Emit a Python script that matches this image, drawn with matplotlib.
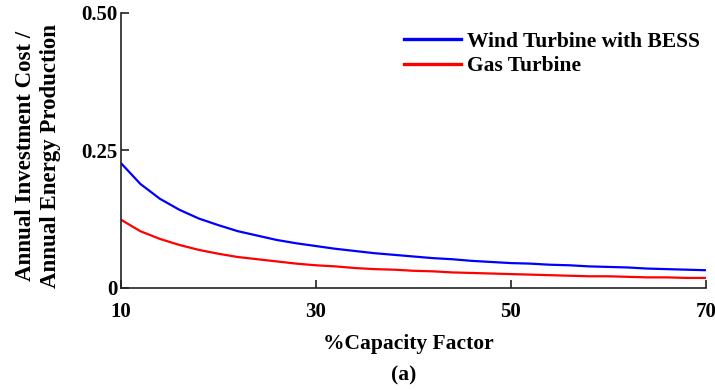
import matplotlib
matplotlib.use("Agg")
import matplotlib.pyplot as plt

# capacity factor (%) and cost ratio
cap_factor = [10, 12, 14, 16, 18, 20, 22, 24, 26, 28, 30, 32, 34, 36, 38, 40,
              42, 44, 46, 48, 50, 52, 54, 56, 58, 60, 62, 64, 66, 68, 70]
wind_bess = [0.227, 0.189, 0.162, 0.142, 0.126, 0.114, 0.103, 0.095, 0.087, 0.081,
             0.076, 0.071, 0.067, 0.063, 0.060, 0.057, 0.054, 0.052, 0.049, 0.047,
             0.045, 0.044, 0.042, 0.041, 0.039, 0.038, 0.037, 0.035, 0.034, 0.033, 0.032]
gas = [0.124, 0.103, 0.089, 0.078, 0.069, 0.062, 0.056, 0.052, 0.048, 0.044,
       0.041, 0.039, 0.036, 0.034, 0.033, 0.031, 0.030, 0.028, 0.027, 0.026,
       0.025, 0.024, 0.023, 0.022, 0.021, 0.021, 0.020, 0.019, 0.019, 0.018, 0.018]

x_ticks = [10, 30, 50, 70]
y_ticks = [0, 0.25, 0.5]
y_tick_labels = ["0", "0.25", "0.50"]

plt.rcParams['font.family'] = ['Liberation Serif', 'DejaVu Serif']
plt.rcParams['font.weight'] = 'bold'

fig = plt.figure(figsize=(7.15, 3.9), dpi=100)
ax = fig.add_axes([0.169, 0.262, 0.818, 0.705])

ax.plot(cap_factor, wind_bess, color='#0000ff', lw=1.6, label='Wind Turbine with BESS')
ax.plot(cap_factor, gas, color='#ff0000', lw=1.6, label='Gas Turbine')

ax.set_xlim(10, 70)
ax.set_ylim(0, 0.5)
ax.set_xticks(x_ticks)
ax.set_xticklabels([str(t) for t in x_ticks])
ax.set_yticks(y_ticks)
ax.set_yticklabels(y_tick_labels)
ax.tick_params(direction='in', length=6, width=1.2, colors='#222222',
               labelsize=15, labelcolor='black')
ax.tick_params(axis='y', pad=2.5)
ax.tick_params(axis='x', pad=10)
for lbl in ax.get_xticklabels() + ax.get_yticklabels():
    lbl.set_fontweight('bold')

ax.spines['top'].set_visible(False)
ax.spines['right'].set_visible(False)
for s in ['left', 'bottom']:
    ax.spines[s].set_linewidth(1.2)
    ax.spines[s].set_color('#222222')

leg = ax.legend(loc='upper right', bbox_to_anchor=(0.987, 0.934),
                bbox_transform=fig.transFigure, frameon=False,
                prop={'size': 15.5, 'weight': 'bold'}, handlelength=2.65,
                handletextpad=0.28, labelspacing=0.2, borderpad=0,
                borderaxespad=0.28)
for line in leg.get_lines():
    line.set_linewidth(2.4)

fig.text(0.036, 0.600, 'Annual Investment Cost /', rotation=90, ha='center', va='center',
         fontsize=16.5, fontweight='bold')
fig.text(0.071, 0.600, 'Annual Energy Production', rotation=90, ha='center', va='center',
         fontsize=16.5, fontweight='bold')
fig.text(0.571, 0.118, '%Capacity Factor', ha='center', va='center',
         fontsize=15.5, fontweight='bold')
fig.text(0.564, 0.038, '(a)', ha='center', va='center',
         fontsize=15.5, fontweight='bold')

fig.savefig('out.png', dpi=100)
